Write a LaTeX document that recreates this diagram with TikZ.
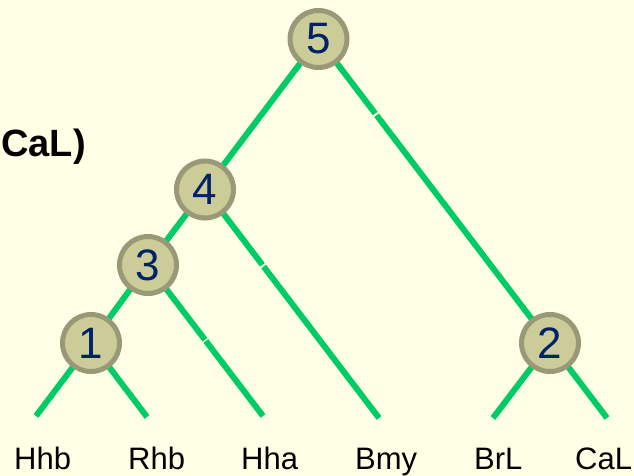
\documentclass[tikz,border=0pt]{standalone}
\usepackage{fontspec}
\setmainfont{Liberation Sans}
\usetikzlibrary{calc}
\definecolor{bg}{RGB}{255,255,229}
\definecolor{branch}{RGB}{0,204,102}
\definecolor{nodefill}{RGB}{204,204,153}
\definecolor{nodeborder}{RGB}{153,153,119}
\definecolor{numcol}{RGB}{0,34,102}
\tikzset{
  treenode/.style={circle, fill=nodefill, draw=nodeborder, line width=5pt,
    minimum size=57pt, inner sep=0pt, text=numcol, font=\fontsize{44}{44}\selectfont},
  branchline/.style={draw=branch, line width=6pt},
  leaflabel/.style={anchor=base west, inner sep=0pt, font=\fontsize{31}{31}\selectfont, text=black},
}
\begin{document}
\begin{tikzpicture}[x=1pt,y=-1pt]
\fill[bg] (0,0) rectangle (634,476);
\useasboundingbox (0,0) rectangle (634,476);
\begin{scope}
\clip (0,0) rectangle (634,476);
% title fragment
\node[anchor=base east, inner sep=0pt, font=\bfseries\fontsize{38}{38}\selectfont] (title) at (86,157) {CaL)};
% leaf end points
\coordinate (eHhb) at (36,416);
\coordinate (eRhb) at (147,417);
\coordinate (eHha) at (263,416);
\coordinate (eBmy) at (379,418);
\coordinate (eBrL) at (493,418);
\coordinate (eCaL) at (607,418);
% internal node positions
\coordinate (p5) at (318.5,39);
\coordinate (p4) at (205,189.5);
\coordinate (p3) at (148,265);
\coordinate (p1) at (91,343);
\coordinate (p2) at (550,343);
% branches
\draw[branchline] (p5) -- ($(p5)!0.245!(p2)$);
\draw[branchline] ($(p5)!0.251!(p2)$) -- (p2);
\draw[branchline] (p5) -- (p4);
\draw[branchline] (p4) -- (p3);
\draw[branchline] (p4) -- ($(p4)!0.330!(eBmy)$);
\draw[branchline] ($(p4)!0.337!(eBmy)$) -- (eBmy);
\draw[branchline] (p3) -- (p1);
\draw[branchline] (p3) -- ($(p3)!0.495!(eHha)$);
\draw[branchline] ($(p3)!0.503!(eHha)$) -- (eHha);
\draw[branchline] (p1) -- (eHhb);
\draw[branchline] (p1) -- (eRhb);
\draw[branchline] (p2) -- (eBrL);
\draw[branchline] (p2) -- (eCaL);
% nodes
\node[treenode] (n5) at (p5) {5};
\node[treenode] (n4) at (p4) {4};
\node[treenode] (n3) at (p3) {3};
\node[treenode] (n1) at (p1) {1};
\node[treenode] (n2) at (p2) {2};
% leaf labels
\node[leaflabel] (lHhb) at (14,469) {Hhb};
\node[leaflabel] (lRhb) at (128,469) {Rhb};
\node[leaflabel] (lHha) at (241,469) {Hha};
\node[leaflabel] (lBmy) at (355,469) {Bmy};
\node[leaflabel] (lBrL) at (474,469) {BrL};
\node[leaflabel] (lCaL) at (575,469) {CaL};
\end{scope}
\end{tikzpicture}
\end{document}
